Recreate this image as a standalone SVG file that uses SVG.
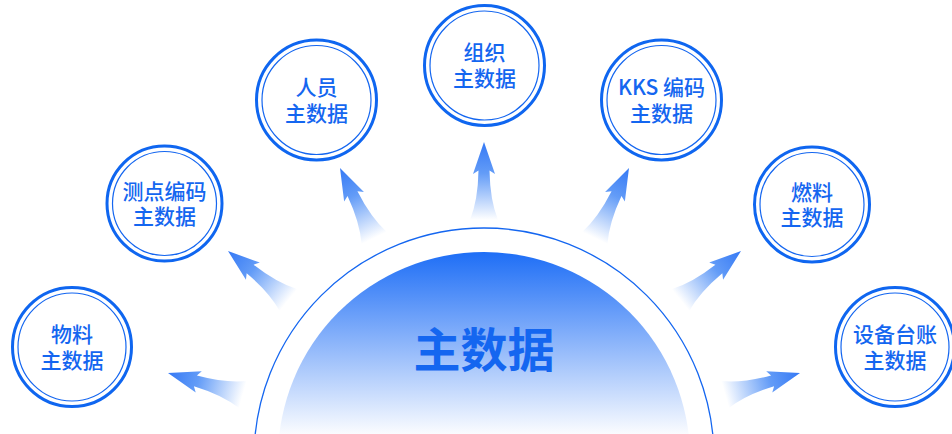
<svg xmlns="http://www.w3.org/2000/svg" width="952" height="434" viewBox="0 0 952 434">
  <defs>
    <linearGradient id="hubGrad" gradientUnits="userSpaceOnUse" x1="0" y1="252" x2="0" y2="438">
      <stop offset="0" stop-color="#1e6ef6"/>
      <stop offset="1" stop-color="#ffffff"/>
    </linearGradient>
    <linearGradient id="arrowGrad" x1="0" y1="0" x2="0" y2="1">
      <stop offset="0" stop-color="#3579f5"/>
      <stop offset="0.4" stop-color="#639cf7"/>
      <stop offset="1" stop-color="#639cf7" stop-opacity="0"/>
    </linearGradient>
    <path id="arrow" d="M0,0 L11,32 L5.5,28.5 Q6,58 14,78 L-14,78 Q-6,58 -5.5,28.5 L-11,32 Z" fill="url(#arrowGrad)"/>
  </defs>
  <style>
    .ring-o { fill: #ffffff; stroke: #0f66f0; stroke-width: 3; }
    .ring-i { fill: none; stroke: #1466f0; stroke-width: 1.2; }
    .lbl { font-family: "Noto Sans CJK SC", "Noto Sans", sans-serif; font-size: 21px; font-weight: 500; fill: #1466f0; text-anchor: middle; }
    .hub-lbl { font-family: "Noto Sans CJK SC", "Noto Sans", sans-serif; font-size: 47px; font-weight: bold; fill: #1466f0; text-anchor: middle; }
  </style>
  <rect width="952" height="434" fill="#ffffff"/>

  <g id="hub">
    <circle cx="484" cy="458" r="230" fill="none" stroke="#1466f0" stroke-width="1.3"/>
    <circle cx="484" cy="458" r="206" fill="url(#hubGrad)"/>
    <text class="hub-lbl" x="484" y="367">主数据</text>
  </g>

  <g id="connectors">
    <use href="#arrow" transform="translate(168,373) rotate(-74)"/>
    <use href="#arrow" transform="translate(228,251) rotate(-51)"/>
    <use href="#arrow" transform="translate(340,168) rotate(-26)"/>
    <use href="#arrow" transform="translate(484,142)"/>
    <use href="#arrow" transform="translate(629,168) rotate(26)"/>
    <use href="#arrow" transform="translate(741,251) rotate(51)"/>
    <use href="#arrow" transform="translate(800,373) rotate(74)"/>
  </g>

  <g id="node-wuliao">
    <circle class="ring-o" cx="72" cy="347" r="59.5"/>
    <circle class="ring-i" cx="72" cy="347" r="54"/>
    <text class="lbl"><tspan x="72" y="342">物料</tspan><tspan x="72" y="368">主数据</tspan></text>
  </g>

  <g id="node-cedian">
    <circle class="ring-o" cx="164.5" cy="203.5" r="57.5"/>
    <circle class="ring-i" cx="164.5" cy="203.5" r="52"/>
    <text class="lbl"><tspan x="164.5" y="199">测点编码</tspan><tspan x="164.5" y="224">主数据</tspan></text>
  </g>

  <g id="node-renyuan">
    <circle class="ring-o" cx="316.5" cy="100" r="60"/>
    <circle class="ring-i" cx="316.5" cy="100" r="54.5"/>
    <text class="lbl"><tspan x="316.5" y="95">人员</tspan><tspan x="316.5" y="121">主数据</tspan></text>
  </g>

  <g id="node-zuzhi">
    <circle class="ring-o" cx="484.5" cy="65.5" r="60"/>
    <circle class="ring-i" cx="484.5" cy="65.5" r="54.5"/>
    <text class="lbl"><tspan x="484.5" y="60">组织</tspan><tspan x="484.5" y="86">主数据</tspan></text>
  </g>

  <g id="node-kks">
    <circle class="ring-o" cx="661.5" cy="100" r="60"/>
    <circle class="ring-i" cx="661.5" cy="100" r="54.5"/>
    <text class="lbl"><tspan x="661.5" y="95">KKS 编码</tspan><tspan x="661.5" y="121">主数据</tspan></text>
  </g>

  <g id="node-ranliao">
    <circle class="ring-o" cx="812" cy="204.5" r="57.5"/>
    <circle class="ring-i" cx="812" cy="204.5" r="52"/>
    <text class="lbl"><tspan x="812" y="200">燃料</tspan><tspan x="812" y="225">主数据</tspan></text>
  </g>

  <g id="node-shebei">
    <circle class="ring-o" cx="895" cy="347" r="59.5"/>
    <circle class="ring-i" cx="895" cy="347" r="54"/>
    <text class="lbl"><tspan x="895" y="342">设备台账</tspan><tspan x="895" y="368">主数据</tspan></text>
  </g>
</svg>
